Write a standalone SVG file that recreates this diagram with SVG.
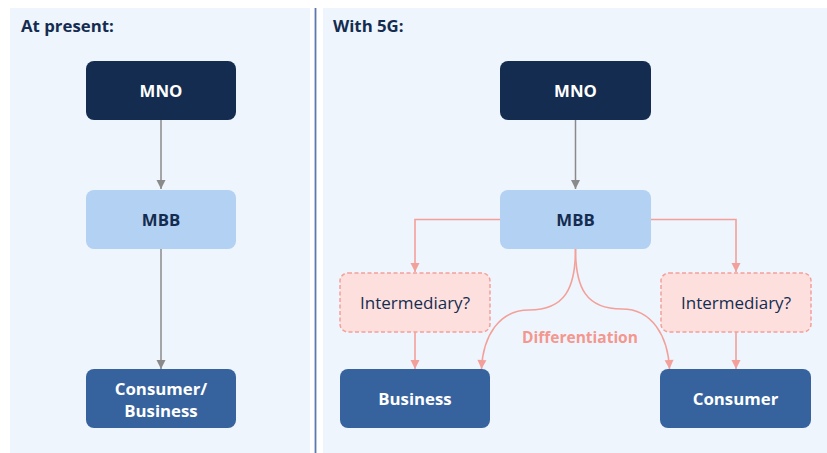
<svg xmlns="http://www.w3.org/2000/svg" width="827" height="453" viewBox="0 0 827 453">
  <style>
    .panel { fill: #eef5fd; }
    .title { font-family: "Open Sans", "Noto Sans", sans-serif; font-weight: 700; font-size: 16.8px; fill: #142c50; }
    .lbl { font-family: "Open Sans", "Noto Sans", sans-serif; font-weight: 700; font-size: 16.8px; text-anchor: middle; }
    .mno rect { fill: #142c50; }
    .mno text, .end text { fill: #ffffff; }
    .mbb rect { fill: #b3d1f3; }
    .mbb text { fill: #142c50; }
    .end rect { fill: #36639e; }
    .mid rect { fill: #fde0de; stroke: #f4a09a; stroke-width: 1.5; stroke-dasharray: 4 2.5; }
    .mid text { font-family: "Open Sans", "Noto Sans", sans-serif; font-size: 17px; text-anchor: middle; fill: #142c50; }
    .gray { fill: none; stroke: #8a8a8a; stroke-width: 1.5; }
    .pink { fill: none; stroke: #f4a09a; stroke-width: 1.6; }
    .diff { font-family: "Open Sans", "Noto Sans", sans-serif; font-weight: 700; font-size: 15.5px; text-anchor: middle; fill: #f4978e; }
  </style>
  <defs>
    <marker id="ag" viewBox="0 0 9 9" refX="9" refY="4.5" markerWidth="9" markerHeight="9" markerUnits="userSpaceOnUse" orient="auto" overflow="visible">
      <path d="M0,0 L9,4.5 L0,9 Z" fill="#8a8a8a"/>
    </marker>
    <marker id="ap" viewBox="0 0 9 9" refX="9" refY="4.5" markerWidth="9" markerHeight="9" markerUnits="userSpaceOnUse" orient="auto" overflow="visible">
      <path d="M0,0 L9,4.5 L0,9 Z" fill="#f4a09a"/>
    </marker>
  </defs>

  <!-- background panels -->
  <rect x="0" y="0" width="827" height="453" fill="#ffffff"/>
  <rect class="panel" x="10" y="8" width="300" height="445"/>
  <rect class="panel" x="323" y="8" width="504" height="445"/>
  <line x1="315.5" y1="8" x2="315.5" y2="453" stroke="#5d78b0" stroke-width="1.8"/>

  <text class="title" x="21" y="32">At present:</text>
  <text class="title" x="333" y="32">With 5G:</text>

  <!-- connectors -->
  <g id="connectors">
    <line class="gray" x1="161" y1="120" x2="161" y2="189" marker-end="url(#ag)"/>
    <line class="gray" x1="161" y1="249" x2="161" y2="369" marker-end="url(#ag)"/>
    <line class="gray" x1="575.5" y1="120" x2="575.5" y2="189" marker-end="url(#ag)"/>
    <path class="pink" d="M500,219.5 H415 V272" marker-end="url(#ap)"/>
    <path class="pink" d="M651,219.5 H736 V272" marker-end="url(#ap)"/>
    <line class="pink" x1="415" y1="332" x2="415" y2="369" marker-end="url(#ap)"/>
    <line class="pink" x1="736" y1="332" x2="736" y2="369" marker-end="url(#ap)"/>
    <path class="pink" d="M575.5,249 C575.5,288 565,310 529,310 C499,310 483,336 481.5,369" marker-end="url(#ap)"/>
    <path class="pink" d="M575.5,249 C575.5,288 586,309 622,309 C652,309 668,336 669.5,369" marker-end="url(#ap)"/>
  </g>
  <text class="diff" x="580" y="343">Differentiation</text>

  <!-- left: present -->
  <g id="mno-present" class="mno">
    <rect x="86" y="61" width="150" height="59" rx="8"/>
    <text class="lbl" x="161" y="96.5">MNO</text>
  </g>
  <g id="mbb-present" class="mbb">
    <rect x="86" y="190" width="150" height="59" rx="8"/>
    <text class="lbl" x="161" y="225.5">MBB</text>
  </g>
  <g id="consumer-business" class="end">
    <rect x="86" y="369" width="150" height="59" rx="8"/>
    <text class="lbl" x="161" y="395">Consumer/</text>
    <text class="lbl" x="161" y="416.5">Business</text>
  </g>

  <!-- right: with 5G -->
  <g id="mno-5g" class="mno">
    <rect x="500" y="61" width="151" height="59" rx="8"/>
    <text class="lbl" x="575.5" y="96.5">MNO</text>
  </g>
  <g id="mbb-5g" class="mbb">
    <rect x="500" y="190" width="151" height="59" rx="8"/>
    <text class="lbl" x="575.5" y="225.5">MBB</text>
  </g>
  <g id="intermediary-left" class="mid">
    <rect x="340" y="273" width="150" height="59" rx="8"/>
    <text x="415" y="309">Intermediary?</text>
  </g>
  <g id="intermediary-right" class="mid">
    <rect x="661" y="273" width="150" height="59" rx="8"/>
    <text x="736" y="309">Intermediary?</text>
  </g>
  <g id="business" class="end">
    <rect x="340" y="369" width="150" height="59" rx="8"/>
    <text class="lbl" x="415" y="405">Business</text>
  </g>
  <g id="consumer" class="end">
    <rect x="660" y="369" width="151" height="59" rx="8"/>
    <text class="lbl" x="735.5" y="405">Consumer</text>
  </g>
</svg>
